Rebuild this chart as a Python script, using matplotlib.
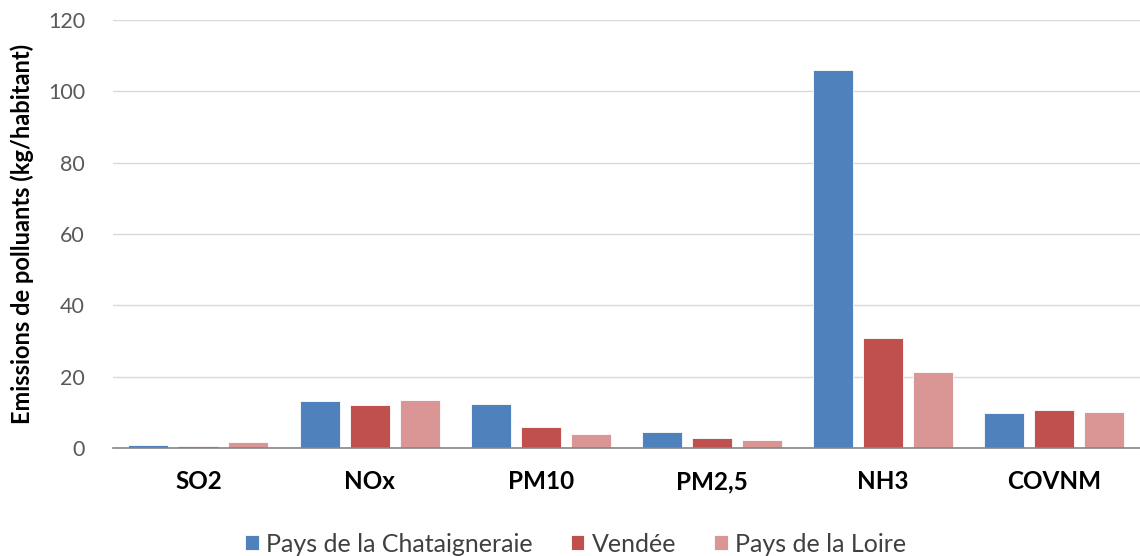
import matplotlib.pyplot as plt
import numpy as np

plt.rcParams['font.family'] = ['Lato', 'DejaVu Sans']

# data
categories = ["SO2", "NOx", "PM10", "PM2,5", "NH3", "COVNM"]
series_names = ["Pays de la Chataigneraie", "Vendée", "Pays de la Loire"]
chataigneraie = [0.85, 13.1, 12.3, 4.6, 106.1, 9.8]
vendee = [0.55, 12.0, 6.0, 2.8, 30.9, 10.6]
loire = [1.7, 13.4, 4.1, 2.4, 21.4, 10.2]
colors = ["#4F81BD", "#C0504D", "#D99694"]

fig = plt.figure(figsize=(11.4, 5.56), dpi=100)
ax = fig.add_axes([0.099, 0.194, 0.901, 0.77])

x = np.arange(len(categories))
width = 0.234
offset = 0.292
for i, (vals, name) in enumerate(zip([chataigneraie, vendee, loire], series_names)):
    ax.bar(x + (i - 1) * offset, vals, width, color=colors[i], label=name,
           edgecolor="white", linewidth=0.6, zorder=3)

ax.set_xlim(-0.5, len(categories) - 0.5)
ax.set_ylim(0, 120)
ax.set_yticks(range(0, 121, 20))
ax.yaxis.grid(True, color="#D9D9D9", linewidth=1, zorder=0)
ax.tick_params(axis="y", length=0, pad=20, labelsize=15.5, labelcolor="#595959")
ax.tick_params(axis="x", length=0, pad=16, labelsize=17.5)
ax.set_xticks(x)
ax.set_xticklabels(categories, fontweight="bold")
for s in ["top", "right", "left"]:
    ax.spines[s].set_visible(False)
ax.spines["bottom"].set_color("#868686")
ax.spines["bottom"].set_linewidth(1.2)
ax.spines["bottom"].set_zorder(4)

ax.set_ylabel("Emissions de polluants (kg/habitant)", fontsize=17,
              fontweight="bold")
ax.yaxis.set_label_coords(-0.077, 0.5)

fig.legend(loc="lower center", bbox_to_anchor=(0.505, -0.04), ncol=3,
           frameon=False, fontsize=18, handlelength=0.55, handleheight=0.55,
           handletextpad=0.3, columnspacing=1.5, labelcolor="#404040")

fig.savefig("out.png", dpi=100)
